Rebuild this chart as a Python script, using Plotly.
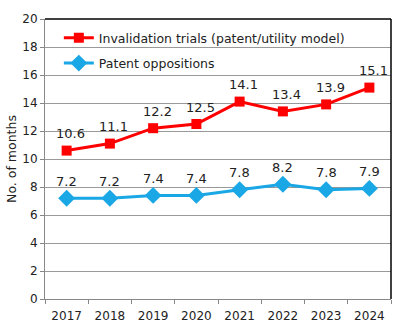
import plotly.graph_objects as go

years = ["2017", "2018", "2019", "2020", "2021", "2022", "2023", "2024"]
invalidation = [10.6, 11.1, 12.2, 12.5, 14.1, 13.4, 13.9, 15.1]
oppositions = [7.2, 7.2, 7.4, 7.4, 7.8, 8.2, 7.8, 7.9]
name_inv = "Invalidation trials (patent/utility model)"
name_opp = "Patent oppositions"
y_ticks = list(range(0, 21, 2))

RED = "#FF0000"
BLUE = "#1AA7E6"
FONT = "DejaVu Sans"

fig = go.Figure()
fig.add_trace(go.Scatter(x=years, y=invalidation, name=name_inv, mode="lines+markers",
                         legendgroup="a",
                         line=dict(color=RED, width=3),
                         marker=dict(symbol="square", size=10, color=RED)))
fig.add_trace(go.Scatter(x=years, y=oppositions, name=name_opp, mode="lines+markers",
                         legendgroup="b",
                         line=dict(color=BLUE, width=3),
                         marker=dict(symbol="diamond", size=13, color=BLUE)))

for i, v in enumerate(invalidation):
    fig.add_annotation(x=i, y=v, text=f"{v:.1f}", showarrow=False, xshift=4, yshift=17,
                       font=dict(family=FONT, size=13, color="#222"))
for i, v in enumerate(oppositions):
    fig.add_annotation(x=i, y=v, text=f"{v:.1f}", showarrow=False, xshift=0, yshift=17,
                       font=dict(family=FONT, size=13, color="#222"))

# top and right border
fig.add_shape(type="line", xref="paper", yref="paper", x0=0, x1=1, y0=1, y1=1,
              line=dict(color="black", width=1.5))
fig.add_shape(type="line", xref="paper", yref="paper", x0=1, x1=1, y0=0, y1=1,
              line=dict(color="black", width=1.5))

fig.update_layout(
    width=398, height=330,
    margin=dict(l=45, r=7, t=19, b=31),
    plot_bgcolor="white", paper_bgcolor="white",
    font=dict(family=FONT, color="#222"),
    showlegend=True,
    legend=dict(x=0.04, y=0.985, xanchor="left", yanchor="top",
                font=dict(family=FONT, size=12.5, color="#222"),
                bgcolor="rgba(0,0,0,0)", tracegroupgap=6, itemwidth=30),
    xaxis=dict(type="category", range=[-0.5, len(years) - 0.5], showline=True,
               linecolor="#888", linewidth=1,
               ticks="outside", tickson="boundaries", ticklen=4, tickcolor="#888",
               tickangle=0, ticklabelstandoff=6,
               tickfont=dict(family=FONT, size=12, color="#222"), showgrid=False),
    yaxis=dict(range=[0, 20], tickvals=y_ticks, showline=True, linecolor="#888", linewidth=1,
               ticks="outside", ticklen=4, tickcolor="#888", gridcolor="#999", gridwidth=1,
               tickfont=dict(family=FONT, size=12, color="#222"), zeroline=False,
               title=dict(text="No. of months", font=dict(family=FONT, size=12.5, color="#222"),
                          standoff=2)),
)

fig.write_html("out.html")
